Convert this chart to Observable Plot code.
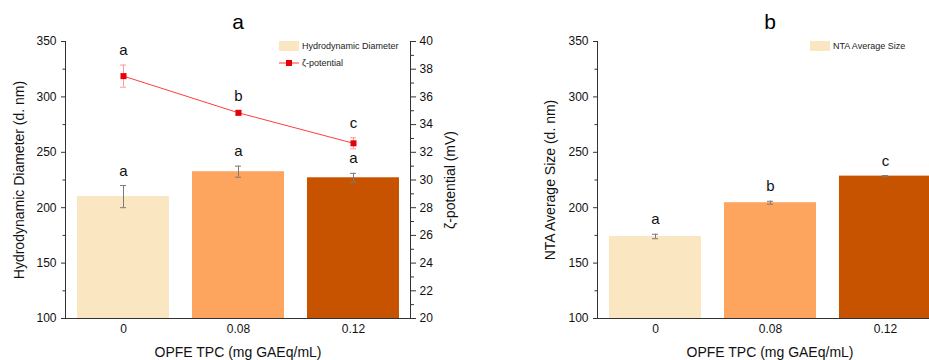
<!DOCTYPE html>
<html>
<head>
<meta charset="utf-8">
<script src="https://cdn.jsdelivr.net/npm/d3@7"></script>
<script src="https://cdn.jsdelivr.net/npm/@observablehq/plot@0.6"></script>
<style>
  html, body { margin: 0; padding: 0; background: #fff; }
  #wrap { position: relative; width: 929px; height: 360px; overflow: hidden; font-family: "Liberation Sans", Arial, sans-serif; }
  .layer { position: absolute; top: 0; height: 360px; }
  .layer svg { max-width: none !important; }
  .leg { position: absolute; font-size: 9px; color: #222; line-height: 10px; white-space: nowrap; }
  .leg .row { position: relative; height: 10px; margin-bottom: 7px; }
  .leg .sw { position: absolute; left: 0; top: 0; width: 20px; height: 10px; }
  .leg .tx { position: absolute; left: 23px; top: 0; }
</style>
</head>
<body>
<div id="wrap">
  <div id="pa" class="layer" style="left:0; width:465px"></div>
  <div id="pz" class="layer" style="left:0; width:465px"></div>
  <div id="pb" class="layer" style="left:465px; width:532px"></div>
  <div id="legA" class="leg" style="left:279px; top:41px"></div>
  <div id="legB" class="leg" style="left:810px; top:41px"></div>
</div>
<script>
// ---- data ----
const categories = ["0", "0.08", "0.12"];
const barColors = ["#FAE6C0", "#FDA45F", "#C75300"];

const hdMean = [210, 232.5, 227];
const hdErr = [10, 5, 4];
const hdLetters = ["a", "a", "a"];

const zetaMean = [37.5, 34.85, 32.65];
const zetaErr = [0.8, 0.15, 0.4];
const zetaLetters = ["a", "b", "c"];

const ntaMean = [174, 204.5, 228.5];
const ntaErr = [2, 1.3, 0.5];
const ntaLetters = ["a", "b", "c"];

const sizeTicks = [100, 150, 200, 250, 300, 350];
const sizeMinorTicks = [125, 175, 225, 275, 325];
const zetaTicks = [20, 22, 24, 26, 28, 30, 32, 34, 36, 38, 40];
const zetaMinorTicks = [21, 23, 25, 27, 29, 31, 33, 35, 37, 39];

const titleA = "a", titleB = "b";
const yLabelA = "Hydrodynamic Diameter (d. nm)";
const yLabelZ = "ζ-potential (mV)";
const yLabelB = "NTA Average Size (d. nm)";
const xLabel = "OPFE TPC (mg GAEq/mL)";
const legendHD = "Hydrodynamic Diameter";
const legendZ = "ζ-potential";
const legendNTA = "NTA Average Size";

// ---- tables ----
const hd = categories.map((c, i) => ({c, v: hdMean[i], e: hdErr[i], l: hdLetters[i], color: barColors[i]}));
const zeta = categories.map((c, i) => ({c, v: zetaMean[i], e: zetaErr[i], l: zetaLetters[i]}));
const nta = categories.map((c, i) => ({c, v: ntaMean[i], e: ntaErr[i], l: ntaLetters[i], color: barColors[i]}));

const FONT = "'Liberation Sans', Arial, sans-serif";
const AX = "#333";
const ERR = "#7a7a7a";
const ZLINE = "#ff3d3d";
const ZERR = "#ff9a9a";
const ZDOT = "#e6000a";

const frameOpts = {height: 360, marginTop: 41, marginBottom: 42, marginRight: 55};
const style = {fontFamily: FONT, fontSize: "12px", color: "#111", background: "transparent", overflow: "visible", maxWidth: "none"};
const xBand = {type: "band", domain: categories, paddingInner: 0.2, paddingOuter: 0.1};

function barMarks(data, yLabel, title, labelDx) {
  return [
    Plot.barY(data, {x: "c", y1: 100, y2: "v", fill: "color"}),
    Plot.ruleX(data, {x: "c", y1: d => d.v - d.e, y2: d => d.v + d.e, stroke: ERR, strokeWidth: 1}),
    Plot.tickY(data, {x: "c", y: d => d.v + d.e, insetLeft: 43, insetRight: 43, stroke: ERR}),
    Plot.tickY(data, {x: "c", y: d => d.v - d.e, insetLeft: 43, insetRight: 43, stroke: ERR}),
    Plot.text(data, {x: "c", y: d => d.v + d.e, text: "l", dy: -10, lineAnchor: "bottom", fontSize: 15, fill: "#111"}),
    Plot.axisY({ticks: sizeTicks, tickSize: 4, tickPadding: 5, label: null, stroke: AX, fontSize: 12}),
    Plot.axisY({ticks: sizeMinorTicks, tickSize: 2.5, tickFormat: () => "", label: null, stroke: AX}),
    Plot.axisX({tickSize: 0, tickPadding: 6, label: null, fontSize: 12}),
    Plot.frame({anchor: "left", stroke: AX}),
    Plot.ruleY([100], {stroke: AX}),
    Plot.text([title], {frameAnchor: "top", dy: -19, lineAnchor: "middle", fontSize: 21, fill: "#000"}),
    Plot.text([yLabel], {frameAnchor: "left", dx: labelDx, rotate: -90, textAnchor: "middle", lineAnchor: "middle", fontSize: 14, fill: "#111"}),
    Plot.text([xLabel], {frameAnchor: "bottom", dy: 34, lineAnchor: "middle", fontSize: 14, fill: "#111"})
  ];
}

// Panel a: bars
const plotA = Plot.plot({
  ...frameOpts, width: 465, marginLeft: 65, style,
  x: xBand,
  y: {domain: [100, 350]},
  color: {type: "identity"},
  marks: barMarks(hd, yLabelA, titleA, -46)
});
document.getElementById("pa").appendChild(plotA);

// Panel a: zeta-potential overlay (right axis)
const plotZ = Plot.plot({
  ...frameOpts, width: 465, marginLeft: 65, style,
  x: {...xBand, axis: null},
  y: {domain: [20, 40]},
  marks: [
    Plot.lineY(zeta, {x: "c", y: "v", stroke: ZLINE, strokeWidth: 1}),
    Plot.ruleX(zeta, {x: "c", y1: d => d.v - d.e, y2: d => d.v + d.e, stroke: ZERR}),
    Plot.tickY(zeta, {x: "c", y: d => d.v + d.e, insetLeft: 43, insetRight: 43, stroke: ZERR}),
    Plot.tickY(zeta, {x: "c", y: d => d.v - d.e, insetLeft: 43, insetRight: 43, stroke: ZERR}),
    Plot.dot(zeta, {x: "c", y: "v", symbol: "square", r: 3.4, fill: ZDOT, stroke: "none"}),
    Plot.text(zeta, {x: "c", y: d => d.v + d.e, text: "l", dy: -10, lineAnchor: "bottom", fontSize: 15, fill: "#111"}),
    Plot.axisY({anchor: "right", ticks: zetaTicks, tickSize: 5, tickPadding: 4, label: null, stroke: AX, fontSize: 12}),
    Plot.axisY({anchor: "right", ticks: zetaMinorTicks, tickSize: 3, tickFormat: () => "", label: null, stroke: AX}),
    Plot.frame({anchor: "right", stroke: AX}),
    Plot.text([yLabelZ], {frameAnchor: "right", dx: 40, rotate: -90, textAnchor: "middle", lineAnchor: "middle", fontSize: 14, fill: "#111"})
  ]
});
document.getElementById("pz").appendChild(plotZ);

// Panel b
const plotB = Plot.plot({
  ...frameOpts, width: 532, marginLeft: 132, style,
  x: xBand,
  y: {domain: [100, 350]},
  color: {type: "identity"},
  marks: barMarks(nta, yLabelB, titleB, -47)
});
document.getElementById("pb").appendChild(plotB);

// Legends
const legA = document.getElementById("legA");
legA.innerHTML =
  `<div class="row"><div class="sw" style="background:${barColors[0]}"></div><div class="tx">${legendHD}</div></div>` +
  `<div class="row"><svg class="sw" width="20" height="10" style="background:none"><line x1="0" x2="20" y1="5" y2="5" stroke="${ZLINE}" stroke-width="1"/><rect x="7" y="2" width="6" height="6" fill="${ZDOT}"/></svg><div class="tx">${legendZ}</div></div>`;
const legB = document.getElementById("legB");
legB.innerHTML = `<div class="row"><div class="sw" style="background:${barColors[0]}"></div><div class="tx">${legendNTA}</div></div>`;
</script>
</body>
</html>
